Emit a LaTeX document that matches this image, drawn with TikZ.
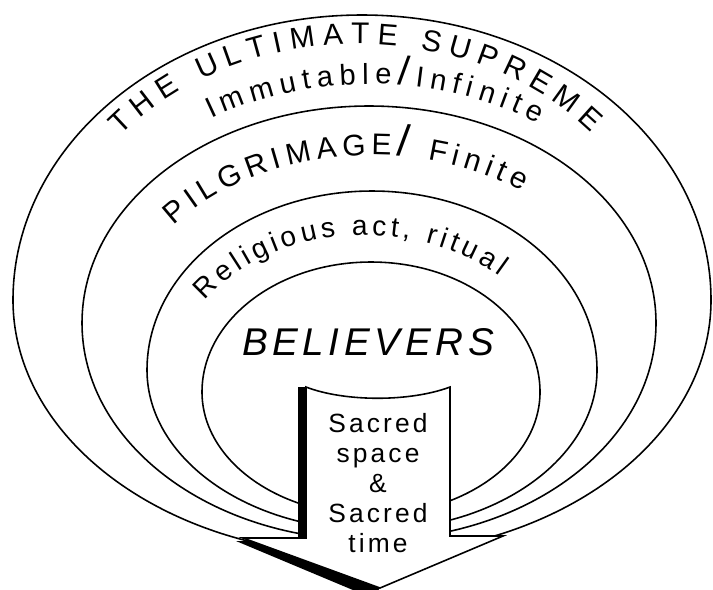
\documentclass[tikz,border=0pt]{standalone}
\usepackage{fontspec}
\setmainfont{Liberation Sans}
\usetikzlibrary{decorations.text}
\newcommand{\ovalring}[5]{%
  \draw[ringline] ({#1-#3},{-#2}) arc[start angle=180, end angle=0, x radius=#3, y radius=#4]
    arc[start angle=0, end angle=-180, x radius=#3, y radius=#5];
}
\newcommand{\arctext}[7]{%
  \path[decorate, decoration={text along path, text align={fit to path}, text={#7}}]
    (#1,-#2) ++(#5:#3 and #4) arc[start angle=#5, end angle=#6, x radius=#3, y radius=#4];
}

\begin{document}
\begin{tikzpicture}[x=0.2mm, y=0.2mm,
  ringline/.style={black, line width=0.9pt},
  arrowline/.style={black, line width=0.9pt, line join=miter},
  believersfont/.style={font=\fontsize{22}{25}\selectfont\itshape\addfontfeature{LetterSpace=12}},
  sacredfont/.style={font=\fontsize{15}{17}\selectfont\addfontfeature{LetterSpace=12}}]

  \useasboundingbox (0,0) rectangle (713,-589);

  % rings, outer to inner
  \ovalring{362}{300}{349}{285}{255}
  \ovalring{369}{323}{287}{217}{217}
  \ovalring{372}{370}{225}{179}{160}
  \ovalring{371}{392}{169}{130}{123}

  % arrow with its shadow
  \fill[black] (298,-387) -- (306,-387) -- (306,-538) -- (380,-588) -- (372,-598)
    -- (236,-541) -- (298,-541) -- cycle;
  \draw[arrowline, fill=white] (306,-387) .. controls (345,-402) and (410,-402) .. (450,-387)
    -- (450,-536) -- (503,-536) -- (380,-588) -- (243,-538) -- (306,-538) -- cycle;

  % curved labels
  \arctext{358}{292}{305}{248}{141}{40}{|\fontsize{17}{20}\selectfont|THE ULTIMATE SUPREME}
  \arctext{370}{314}{300}{230}{122}{56}{|\fontsize{16.5}{19}\selectfont|Immutable|\fontsize{23}{23}\selectfont|/|\fontsize{16.5}{19}\selectfont|Infinite}
  \arctext{372}{345}{255}{190}{141}{54}{|\fontsize{17}{20}\selectfont|PILGRIMAGE|\fontsize{25}{25}\selectfont|/|\fontsize{17}{20}\selectfont| Finite}
  \arctext{365}{383}{193}{148}{146}{46}{|\fontsize{16}{19}\selectfont|Religious act, ritual}

  \node[believersfont] (believers) at (368,-342) {BELIEVERS};
  \node[sacredfont, align=center] (sacred) at (378,-483) {Sacred\\space\\\&\\Sacred\\time};

\end{tikzpicture}
\end{document}
